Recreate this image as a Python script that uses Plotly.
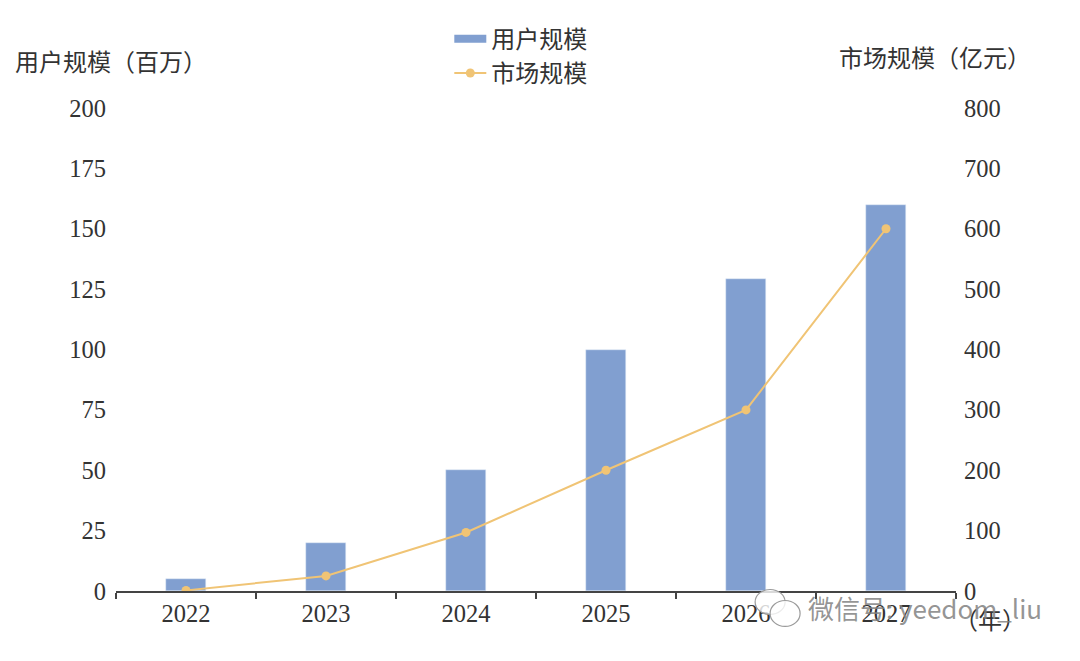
import plotly.graph_objects as go

years = ["2022", "2023", "2024", "2025", "2026", "2027"]
users = [5, 20, 50, 100, 129, 160]
market = [1, 25, 97, 200, 300, 600]
left_ticks = [0, 25, 50, 75, 100, 125, 150, 175, 200]
right_ticks = [0, 100, 200, 300, 400, 500, 600, 700, 800]

BLUE = "#819fd0"
GOLD = "#f0c475"
INK = "#333333"
SERIF = "Liberation Serif, Noto Sans CJK SC"
CJK = "Noto Sans CJK SC"
CJK_PAREN = "Noto Sans CJK TC"  # fullwidth brackets sit centred, as in the reference

fig = go.Figure()
fig.add_bar(x=years, y=users, name="用户规模", marker_color=BLUE, width=0.285, yaxis="y",
            showlegend=False, legendgroup="users")
fig.add_scatter(x=[None], y=[None], name="用户规模", mode="lines", legendgroup="users",
                line=dict(color=BLUE, width=8))
fig.add_scatter(x=years, y=market, name="市场规模", mode="lines+markers", yaxis="y2",
                line=dict(color=GOLD, width=2), marker=dict(color=GOLD, size=9))

def note(text, x, y, size=24, color=INK, family=CJK_PAREN):
    fig.add_annotation(text=text, xref="paper", yref="paper", x=x, y=y, showarrow=False,
                       xanchor="center", yanchor="middle", font=dict(family=family, size=size, color=color))

PAGE = 8  # browser body margin
W, H = 1080, 661
L, R, T, B = 115.5, 956, 107.5, 591.5
px = lambda v: (v - L) / (R - L)
py = lambda v: (B - v) / (B - T)

note("用户规模（百万）", px(110), py(60))
note("市场规模（亿元）", px(935), py(56))
note("（年）", px(990), py(619))

# WeChat watermark
for x0, y0, x1, y1 in [(755, 590, 785, 615), (770, 601, 800, 627)]:
    fig.add_shape(type="circle", xref="paper", yref="paper", x0=px(x0), x1=px(x1), y0=py(y1), y1=py(y0),
                  fillcolor="rgba(255,255,255,0.8)", line=dict(color="#9a9a9a", width=1.2))
note("微信号: yeedom_liu", px(925), py(608), size=26, color="rgba(130,130,130,0.85)", family=CJK)

tick_font = dict(family=SERIF, size=24.5, color=INK)
fig.update_layout(
    width=W - PAGE, height=H - PAGE, autosize=False,
    margin=dict(l=L - PAGE, r=W - R, t=T - PAGE, b=H - B, pad=0, autoexpand=False),
    paper_bgcolor="white", plot_bgcolor="white", showlegend=True, bargap=0,
    font=dict(family=SERIF, size=24, color=INK),
    legend=dict(x=px(449), y=py(16), xanchor="left", yanchor="top", orientation="v",
                font=dict(family=CJK, size=24, color=INK), itemwidth=32, bgcolor="rgba(0,0,0,0)",
                traceorder="normal", tracegroupgap=0),
    xaxis=dict(type="category", categoryorder="array", categoryarray=years, range=[-0.5, 5.5],
               tickson="boundaries", ticks="outside", ticklen=6, tickwidth=1.5, tickcolor="#444",
               showline=True, linecolor="#444", linewidth=1.5, showgrid=False, zeroline=False,
               tickfont=tick_font),
    yaxis=dict(range=[0, 200], tickvals=left_ticks, showgrid=False, zeroline=False, showline=False,
               ticks="outside", ticklen=4, tickcolor="rgba(0,0,0,0)", tickfont=tick_font),
    yaxis2=dict(range=[0, 800], tickvals=right_ticks, overlaying="y", side="right", showgrid=False,
                zeroline=False, showline=False, ticks="outside", ticklen=2,
                tickcolor="rgba(0,0,0,0)", tickfont=tick_font),
)
fig.write_html("out.html")
